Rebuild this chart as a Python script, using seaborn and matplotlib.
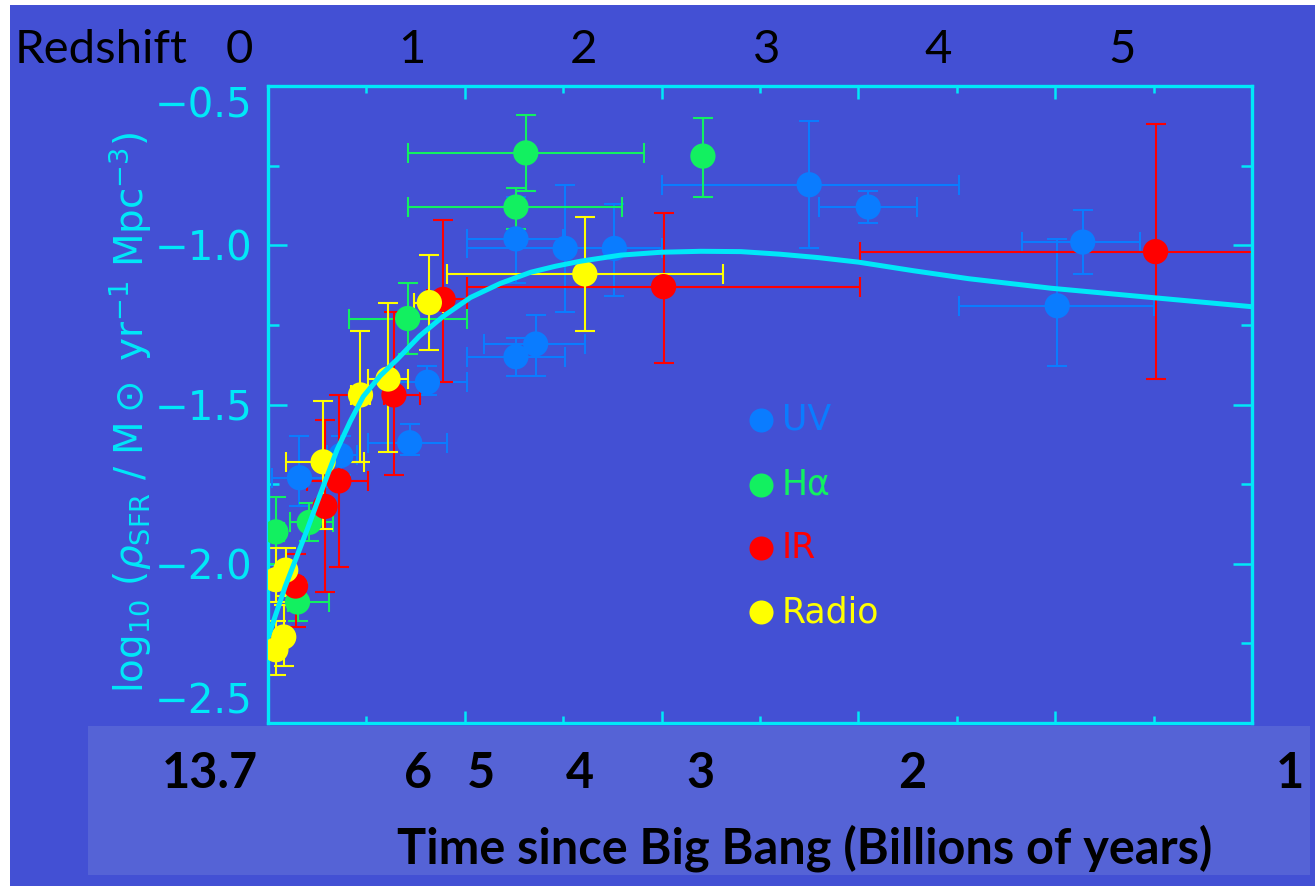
import numpy as np
import pandas as pd
import matplotlib
matplotlib.use("Agg")
import matplotlib.pyplot as plt
from matplotlib.patches import Rectangle
from matplotlib.ticker import MultipleLocator
import seaborn as sns

# ---------------- data ----------------
methods = ["UV", "Hα", "IR", "Radio"]

uv_z   = [1.26, 1.51, 1.76, 2.75, 3.05, 4.14, 4.01, 1.26, 1.36, 0.81, 0.72, 0.16, 0.37]
uv_sfr = [-0.98, -1.01, -1.01, -0.81, -0.88, -0.99, -1.19, -1.35, -1.31, -1.43, -1.62, -1.73, -1.66]
uv_zlo = [1.01, 1.01, 1.51, 2.00, 2.80, 3.83, 3.51, 1.01, 1.10, 0.62, 0.51, 0.02, 0.30]
uv_zhi = [1.50, 2.00, 2.00, 3.51, 3.30, 4.43, 4.50, 1.51, 1.61, 1.01, 0.91, 0.30, 0.45]
uv_ylo = [-1.12, -1.21, -1.16, -1.01, -0.93, -1.09, -1.38, -1.41, -1.41, -1.47, -1.66, -1.82, -1.72]
uv_yhi = [-0.85, -0.81, -0.87, -0.61, -0.83, -0.89, -0.98, -1.29, -1.22, -1.38, -1.56, -1.60, -1.60]

ha_z   = [1.31, 1.26, 2.21, 0.71, 0.21, 0.04, 0.15]
ha_sfr = [-0.71, -0.88, -0.72, -1.23, -1.87, -1.90, -2.12]
ha_zlo = [0.71, 0.71, 2.21, 0.41, 0.11, 0.00, 0.10]
ha_zhi = [1.91, 1.80, 2.21, 1.01, 0.33, 0.08, 0.31]
ha_ylo = [-0.83, -0.95, -0.85, -1.34, -1.93, -2.00, -2.18]
ha_yhi = [-0.59, -0.82, -0.60, -1.12, -1.81, -1.79, -2.06]

ir_z   = [4.51, 2.01, 0.89, 0.64, 0.36, 0.29, 0.14]
ir_sfr = [-1.02, -1.13, -1.17, -1.47, -1.74, -1.82, -2.07]
ir_zlo = [3.01, 1.01, 0.81, 0.59, 0.20, 0.26, 0.10]
ir_zhi = [5.20, 3.01, 1.01, 0.77, 0.51, 0.32, 0.18]
ir_ylo = [-1.42, -1.37, -1.43, -1.72, -2.01, -2.09, -2.20]
ir_yhi = [-0.62, -0.90, -0.92, -1.21, -1.47, -1.55, -1.97]

ra_z   = [1.61, 0.82, 0.61, 0.47, 0.28, 0.08, 0.04, 0.04, 0.09]
ra_sfr = [-1.09, -1.18, -1.42, -1.47, -1.68, -2.23, -2.27, -2.05, -2.02]
ra_zlo = [0.91, 0.74, 0.51, 0.42, 0.09, 0.05, 0.02, 0.02, 0.06]
ra_zhi = [2.31, 0.89, 0.71, 0.52, 0.49, 0.11, 0.06, 0.06, 0.12]
ra_ylo = [-1.27, -1.33, -1.65, -1.68, -1.89, -2.32, -2.35, -2.12, -2.10]
ra_yhi = [-0.91, -1.03, -1.18, -1.27, -1.49, -2.13, -2.18, -1.95, -1.95]

curve_z   = [0.005, 0.087, 0.199, 0.255, 0.351, 0.418, 0.484, 0.570, 0.657, 0.770,
             0.891, 1.029, 1.180, 1.334, 1.460, 1.589, 1.792, 1.996, 2.200, 2.403,
             2.600, 2.800, 3.000, 3.280, 3.560, 3.980, 4.400, 4.700, 5.000]
curve_sfr = [-2.223, -2.072, -1.893, -1.799, -1.642, -1.553, -1.475, -1.410, -1.358, -1.285,
             -1.223, -1.164, -1.120, -1.085, -1.066, -1.050, -1.031, -1.022, -1.019, -1.020,
             -1.028, -1.039, -1.053, -1.080, -1.105, -1.135, -1.159, -1.176, -1.193]

redshift_ticks = ["0", "1", "2", "3", "4", "5"]
time_ticks = ["13.7", "6", "5", "4", "3", "2", "1"]
yticks = [-2.5, -2.0, -1.5, -1.0, -0.5]

# ---------------- styling ----------------
BG = "#4350d4"
LIGHT = "#5563d6"
CYAN = "#00e8f8"
palette = {"UV": "#0a7cff", "Hα": "#12f060", "IR": "#ff0000", "Radio": "#ffff00"}

W, H = 1315, 886
def fx(x): return x / W
def fy(y): return 1 - y / H

frames = []
for m, z, s, zl, zh, yl, yh in [
    ("UV", uv_z, uv_sfr, uv_zlo, uv_zhi, uv_ylo, uv_yhi),
    ("Hα", ha_z, ha_sfr, ha_zlo, ha_zhi, ha_ylo, ha_yhi),
    ("IR", ir_z, ir_sfr, ir_zlo, ir_zhi, ir_ylo, ir_yhi),
    ("Radio", ra_z, ra_sfr, ra_zlo, ra_zhi, ra_ylo, ra_yhi),
]:
    frames.append(pd.DataFrame({"z": z, "sfr": s, "zlo": zl, "zhi": zh,
                                "ylo": yl, "yhi": yh, "method": m}))
df = pd.concat(frames, ignore_index=True)

fig = plt.figure(figsize=(W / 100, H / 100), dpi=100, facecolor="white")
fig.patches.append(Rectangle((fx(10), 0), 1 - fx(10), fy(5), transform=fig.transFigure,
                             facecolor=BG, edgecolor="none", zorder=-10))

ax = fig.add_axes([fx(268), fy(723), fx(1252) - fx(268), fy(86) - fy(723)])
ax.set_facecolor(BG)

for m in methods:
    d = df[df.method == m]
    ax.errorbar(d.z, d.sfr, xerr=[d.z - d.zlo, d.zhi - d.z], yerr=[d.sfr - d.ylo, d.yhi - d.sfr],
                fmt="none", ecolor=palette[m], elinewidth=1.5, capsize=7.5, capthick=1.5, zorder=2)

sns.scatterplot(data=df, x="z", y="sfr", hue="method", hue_order=methods, palette=palette,
                s=330, linewidth=0, edgecolor="none", legend=False, ax=ax, zorder=3)
sns.lineplot(x=curve_z, y=curve_sfr, color=CYAN, linewidth=3.6, estimator=None, ax=ax, zorder=4)

ax.set_xlim(0, 5)
ax.set_ylim(-2.5, -0.5)
ax.set_xlabel("")
ax.set_ylabel("")
for sp in ax.spines.values():
    sp.set_color(CYAN)
    sp.set_linewidth(2.4)

ax.xaxis.set_major_locator(MultipleLocator(1))
ax.xaxis.set_minor_locator(MultipleLocator(0.5))
ax.set_yticks(yticks)
ax.yaxis.set_minor_locator(MultipleLocator(0.25))
ax.tick_params(axis="x", which="major", direction="in", length=9, width=1.8, color=CYAN,
               top=True, bottom=True, labelbottom=False)
ax.tick_params(axis="x", which="minor", direction="in", length=5, width=1.8, color=CYAN,
               top=True, bottom=True)
ax.tick_params(axis="y", which="major", direction="in", length=14, width=1.8, color=CYAN,
               left=True, right=True, labelsize=29, labelcolor=CYAN, pad=11)
ax.tick_params(axis="y", which="minor", direction="in", length=8, width=1.8, color=CYAN,
               left=True, right=True)
ax.set_yticklabels(["\u22122.5", "\u22122.0", "\u22121.5", "\u22121.0", "\u22120.5"])
labs = ax.get_yticklabels()
labs[0].set_verticalalignment("bottom")
labs[-1].set_verticalalignment("top")

# legend drawn inside the axes
leg_y = [0.476, 0.374, 0.275, 0.174]
for m, yy in zip(methods, leg_y):
    ax.scatter([0.501], [yy], s=300, color=palette[m], linewidth=0, transform=ax.transAxes, zorder=5)
    ax.text(0.522, yy, m, color=palette[m], fontsize=25, va="center", ha="left",
            transform=ax.transAxes, zorder=5)

# y label
fig.text(fx(130), fy(413),
         r"$\mathregular{log_{10}}\ (\rho_{\mathregular{SFR}}\ /\ \mathregular{M}\odot\ \mathregular{yr^{-1}\ Mpc^{-3}})$",
         rotation=90, color=CYAN, fontsize=28, ha="center", va="center")

# lower light panel
fig.patches.append(Rectangle((fx(88), fy(875)), fx(1310) - fx(88), fy(726) - fy(875),
                             transform=fig.transFigure, facecolor=LIGHT, edgecolor="none", zorder=1))

# top redshift labels
fig.text(fx(101), fy(63), "Redshift", fontsize=34, family="Lato", color="black",
         ha="center", va="baseline", zorder=3)
for lab, x in zip(redshift_ticks, [239, 412, 583, 767, 938, 1122]):
    fig.text(fx(x), fy(63), lab, fontsize=34, family="Lato", color="black",
             ha="center", va="baseline", zorder=3)

# bottom time labels
for lab, x in zip(time_ticks, [210, 418, 481, 580, 700, 912, 1290]):
    fig.text(fx(x), fy(788), lab, fontsize=35, family="Lato", fontweight="bold", color="black",
             ha="center", va="baseline", zorder=3)
fig.text(fx(805), fy(863), "Time since Big Bang (Billions of years)", fontsize=35, family="Lato",
         fontweight="bold", color="black", ha="center", va="baseline", zorder=3)

fig.savefig("out.png", dpi=100, facecolor="white")
